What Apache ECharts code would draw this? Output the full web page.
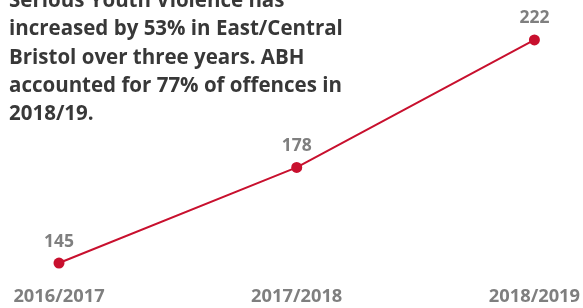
<!DOCTYPE html>
<html><head><meta charset="utf-8">
<script src="https://cdn.jsdelivr.net/npm/echarts@6/dist/echarts.min.js"></script>
<style>html,body{margin:0;padding:0;background:#fff}#c{width:583px;height:308px}</style>
</head><body><div id="c"></div>
<script>
const categories = ['2016/2017', '2017/2018', '2018/2019'];
const values = [145, 178, 222];
const note = 'Serious Youth Violence has\nincreased by 53% in East/Central\nBristol over three years. ABH\naccounted for 77% of offences in\n2018/19.';

const chart = echarts.init(document.getElementById('c'));
chart.setOption({
  animation: false,
  backgroundColor: '#fff',
  title: {
    text: note, left: 4, top: -18,
    textStyle: { fontFamily: 'Open Sans', fontWeight: 'bold', fontSize: 20.5, lineHeight: 28.3, color: '#383838' }
  },
  grid: { left: 59, right: 47, top: 16.8, bottom: 30.5 },
  xAxis: {
    type: 'category', data: categories, boundaryGap: false,
    axisLine: { show: false }, axisTick: { show: false }, splitLine: { show: false },
    axisLabel: { margin: 10, fontFamily: 'Open Sans', fontWeight: 'bold', fontSize: 18.3, color: '#7f7f7f' }
  },
  yAxis: { type: 'value', min: 140, max: 230, show: false },
  series: [{
    type: 'line', data: values,
    symbol: 'circle', symbolSize: 11,
    lineStyle: { color: '#c8102e', width: 2 },
    itemStyle: { color: '#c8102e' },
    label: { show: true, position: 'top', distance: 7, fontFamily: 'Open Sans', fontWeight: 'bold', fontSize: 17.5, color: '#7f7f7f' }
  }]
});
</script></body></html>
